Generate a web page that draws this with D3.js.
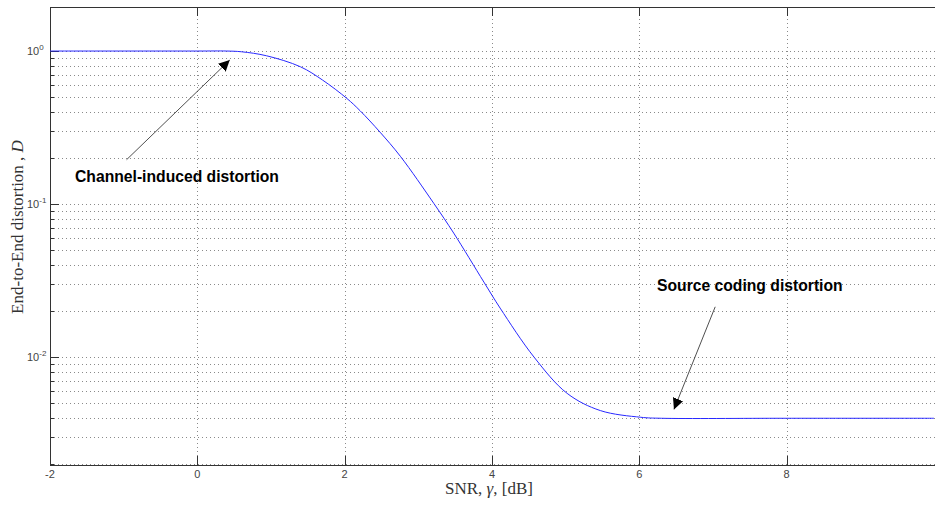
<!DOCTYPE html>
<html>
<head>
<meta charset="utf-8">
<script src="https://cdn.jsdelivr.net/npm/d3@7"></script>
<style>
  body { margin: 0; background: #fff; }
  .tick-label { font-family: "Liberation Sans", Arial, sans-serif; font-size: 11px; fill: #444; }
  .note { font-family: "Liberation Sans", Arial, sans-serif; font-size: 15.7px; font-weight: bold; fill: #000; }
  .axis-title { font-family: "Liberation Serif", "DejaVu Serif", serif; font-size: 17px; fill: #333; }
</style>
</head>
<body>
<div id="fig"></div>
<script>
// data
var snr = [-2, 0, 0.4, 0.6, 0.94, 1.4, 1.7, 2.03, 2.21, 2.48, 2.76, 3.21, 3.48, 3.89, 4.11, 4.57, 5.02, 5.47, 6.02, 6.3, 8, 10];
var dist = [1, 1, 1, 0.989, 0.931, 0.789, 0.646, 0.490, 0.407, 0.295, 0.204, 0.101, 0.0646, 0.0309, 0.0209, 0.01, 0.00579, 0.00447, 0.00404, 0.00398, 0.00398, 0.00398];
var xTicks = [-2, 0, 2, 4, 6, 8];
var yTicks = [0.01, 0.1, 1];
var yExp = ["-2", "-1", "0"];
var xLimits = [-2, 10];
var yLimits = [0.00197, 1.94];

var svg = d3.select("#fig")
    .append("svg")
    .attr("width", 935)
    .attr("height", 505);

// scales
var x = d3.scaleLinear().domain(xLimits).range([50, 934]);
var y = d3.scaleLog().domain(yLimits).range([465, 7]);

// minor y positions 1..9 per decade
var yMinor = [];
for (var e = -3; e <= 0; e++) {
    for (var k = 1; k <= 9; k++) {
        var v = k * Math.pow(10, e);
        if (v >= yLimits[0] && v <= yLimits[1]) yMinor.push(v);
    }
}

var grid = svg.append("g")
    .attr("shape-rendering", "crispEdges")
    .style("stroke", "#8a8a8a")
    .style("stroke-width", 1)
    .style("stroke-dasharray", "1,3");

grid.selectAll(".hgrid")
    .data(yMinor)
    .enter().append("line")
    .attr("x1", 50).attr("x2", 935)
    .attr("y1", function(d) { return Math.round(y(d)) + 0.5; })
    .attr("y2", function(d) { return Math.round(y(d)) + 0.5; });

grid.selectAll(".vgrid")
    .data(xTicks.slice(1))
    .enter().append("line")
    .attr("y1", 7).attr("y2", 465)
    .attr("x1", function(d) { return Math.round(x(d)) + 0.5; })
    .attr("x2", function(d) { return Math.round(x(d)) + 0.5; });

// axes box (left, bottom, top)
var frame = svg.append("g")
    .attr("shape-rendering", "crispEdges")
    .style("stroke", "#333")
    .style("stroke-width", 1)
    .style("fill", "none");

frame.append("path").attr("d", "M935,465.5H50.5V7.5H935");

// x ticks inside, bottom and top
frame.selectAll(".xt")
    .data(xTicks)
    .enter().append("path")
    .attr("d", function(d) {
        var px = Math.round(x(d)) + 0.5;
        return "M" + px + ",465V456M" + px + ",7V16";
    });

// y ticks inside
frame.selectAll(".yt")
    .data(yMinor)
    .enter().append("path")
    .attr("d", function(d) {
        var py = Math.round(y(d)) + 0.5;
        var len = yTicks.indexOf(d) >= 0 ? 9 : 4;
        return "M50," + py + "H" + (50 + len);
    });

// tick labels
svg.selectAll(".xl")
    .data(xTicks)
    .enter().append("text")
    .attr("class", "tick-label")
    .attr("x", function(d) { return x(d); })
    .attr("y", 478)
    .attr("text-anchor", "middle")
    .text(function(d) { return d; });

var yl = svg.selectAll(".yl")
    .data(yTicks)
    .enter().append("text")
    .attr("class", "tick-label")
    .attr("x", 27)
    .attr("y", function(d) { return y(d) + 4; });
yl.append("tspan").text("10");
yl.append("tspan")
    .attr("dy", -5)
    .style("font-size", "8px")
    .text(function(d, i) { return yExp[i]; });

// curve
var line = d3.line()
    .x(function(d) { return x(d[0]); })
    .y(function(d) { return y(d[1]); })
    .curve(d3.curveCatmullRom.alpha(0.5));

svg.append("path")
    .datum(d3.zip(snr, dist))
    .attr("d", line)
    .style("fill", "none")
    .style("stroke", "#2828ff")
    .style("stroke-width", 1);

// axis titles
var xt = svg.append("text")
    .attr("class", "axis-title")
    .attr("x", 489)
    .attr("y", 494)
    .attr("text-anchor", "middle");
xt.append("tspan").text("SNR, ");
xt.append("tspan").style("font-style", "italic").text("γ");
xt.append("tspan").text(", [dB]");

var ytl = svg.append("text")
    .attr("class", "axis-title")
    .attr("transform", "translate(23,227) rotate(-90)")
    .attr("text-anchor", "middle");
ytl.append("tspan").text("End-to-End distortion , ");
ytl.append("tspan").style("font-style", "italic").text("D");

// annotations
svg.append("defs").append("marker")
    .attr("id", "head")
    .attr("viewBox", "0 0 10 10")
    .attr("refX", 10).attr("refY", 5)
    .attr("markerWidth", 11).attr("markerHeight", 11)
    .attr("markerUnits", "userSpaceOnUse")
    .attr("orient", "auto")
    .append("path")
    .attr("d", "M0,0L10,5L0,10Z")
    .style("fill", "#000");

var notes = [
    {text: "Channel-induced distortion", tx: 75, ty: 182, from: [-0.96, 0.195], to: [0.44, 0.873]},
    {text: "Source coding distortion", tx: 657, ty: 291, from: [7.03, 0.0213], to: [6.47, 0.00455]}
];

svg.selectAll(".arrow")
    .data(notes)
    .enter().append("line")
    .attr("x1", function(d) { return x(d.from[0]); })
    .attr("y1", function(d) { return y(d.from[1]); })
    .attr("x2", function(d) { return x(d.to[0]); })
    .attr("y2", function(d) { return y(d.to[1]); })
    .style("stroke", "#222")
    .style("stroke-width", 0.8)
    .attr("marker-end", "url(#head)");

svg.selectAll(".note")
    .data(notes)
    .enter().append("text")
    .attr("class", "note")
    .attr("x", function(d) { return d.tx; })
    .attr("y", function(d) { return d.ty; })
    .text(function(d) { return d.text; });
</script>
</body>
</html>
